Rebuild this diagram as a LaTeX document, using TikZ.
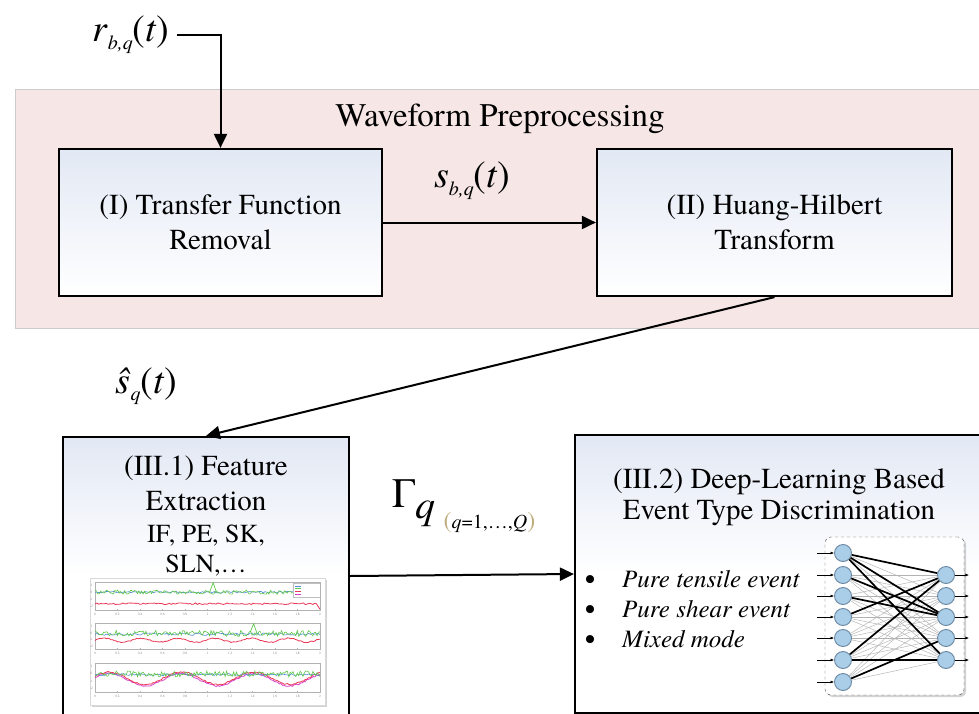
\documentclass[tikz,border=0pt]{standalone}
\usepackage{fontspec}
\setmainfont{texgyretermes}[Extension=.otf, UprightFont=*-regular, ItalicFont=*-italic, BoldFont=*-bold, BoldItalicFont=*-bolditalic]
\usepackage{xcolor}
\usetikzlibrary{arrows.meta, positioning, calc, shadows}
\definecolor{prepink}{RGB}{246, 230, 230}
\definecolor{boxblue}{RGB}{226, 232, 244}
\definecolor{neuronfill}{RGB}{170, 206, 232}
\definecolor{neuronedge}{RGB}{105, 135, 160}
\definecolor{plotgreen}{RGB}{95, 200, 70}
\definecolor{plotred}{RGB}{235, 55, 85}
\definecolor{plotblue}{RGB}{85, 140, 220}
\definecolor{plotmagenta}{RGB}{215, 60, 200}
\definecolor{bracketgray}{RGB}{190, 172, 125}

\tikzset{
  stagebox/.style={draw=black, line width=2.2pt, top color=boxblue, bottom color=white, inner sep=0pt},
  bigbox/.style={stagebox, middle color=white},
  flowarrow/.style={line width=2pt, -{Triangle[length=14pt, width=13pt]}},
  boxtext/.style={font=\fontsize{29}{35}\selectfont, align=center},
  smalltext/.style={font=\fontsize{26}{30}\selectfont},
  sigtext/.style={font=\fontsize{38}{40}\selectfont, inner sep=0pt},
  itemtext/.style={font=\fontsize{25}{30}\selectfont\itshape, inner sep=0pt},
  chartbg/.style={fill=white, draw=gray!30, line width=0.4pt, drop shadow={opacity=0.35, shadow xshift=2pt, shadow yshift=-2pt}},
  axisline/.style={draw=gray!60, line width=0.5pt},
  ticklab/.style={font=\fontsize{3.5}{4}\selectfont, text=gray, inner sep=0pt},
  neuron/.style={circle, draw=neuronedge, line width=0.9pt, fill=neuronfill, minimum size=17pt, inner sep=0pt},
  thinedge/.style={gray!60, line width=0.45pt},
  thickedge/.style={black, line width=1.7pt},
  tinyarrow/.style={line width=0.6pt, -{Latex[length=3.5pt, width=3pt]}},
}

% signal labels: letter, subscript, argument
\newcommand{\siglabel}[3]{\textit{#1}\raisebox{-0.45ex}{\fontsize{20}{20}\selectfont\textit{#2}}(\textit{#3})}

\begin{document}
\begin{tikzpicture}[x=1pt, y=-1pt]
    \useasboundingbox (0,0) rectangle (979,714);

    % Waveform preprocessing band
    \fill[prepink, draw=gray!40, line width=0.6pt] (15,89) rectangle (990,328);
    \node[font=\fontsize{33}{36}\selectfont, anchor=base] (prep) at (500,127) {Waveform Preprocessing};

    % Stage boxes
    \node[stagebox, minimum width=323pt, minimum height=147pt, boxtext] (tf) at (220.5,222.5) {(I) Transfer Function\\Removal};
    \node[stagebox, minimum width=355pt, minimum height=147pt, boxtext] (hh) at (774.5,222.5) {(II) Huang-Hilbert\\Transform};
    \node[bigbox, minimum width=286pt, minimum height=278pt] (fe) at (206,576) {};
    \node[bigbox, minimum width=415pt, minimum height=278pt] (dl) at (782.5,574) {};

    % Signal labels
    \node[sigtext, anchor=base west] (rlab) at (92,42) {\siglabel{r}{b,q}{t}};
    \node[sigtext, anchor=base west] (slab) at (434,188) {\siglabel{s}{b,q}{t}};
    \node[sigtext, anchor=base west] (shatlab) at (115,393) {\textit{\^{s}}\raisebox{-0.45ex}{\fontsize{20}{20}\selectfont\textit{q}}(\textit{t})};
    \node[inner sep=0pt, anchor=base west] (gamlab) at (392,507) {{\fontsize{42}{42}\selectfont Γ}\raisebox{-11pt}{\fontsize{40}{40}\selectfont\textit{q}}\hspace{8pt}\raisebox{-21pt}{\fontsize{20}{20}\selectfont\textcolor{bracketgray}{\fontsize{24}{24}\selectfont(}\textit{q}=1,…,\textit{Q}\textcolor{bracketgray}{\fontsize{24}{24}\selectfont)}}};

    % Connectors
    \draw[flowarrow] ([xshift=7pt]rlab.east) -| (tf.north);
    \draw[flowarrow] (tf.east) -- (hh.west);
    \draw[flowarrow] (hh.south) -- (fe.north);
    \draw[flowarrow] (fe.east) -- (dl.west);

    % Feature extraction text
    \node[boxtext, anchor=base] (fe1) at (206,475) {(III.1) Feature};
    \node[boxtext, anchor=base] (fe2) at (206,510) {Extraction};
    \node[smalltext, anchor=base] (fe3) at (206,542) {IF, PE, SK,};
    \node[smalltext, anchor=base] (fe4) at (206,572) {SLN,…};

    % Feature plots
    \node[chartbg, minimum width=235pt, minimum height=127pt] (chart) at (207.5,641.5) {};
    \foreach \top/\h in {582/28, 623/26, 663/29} {
        \draw[axisline] (95,\top) rectangle (320,\top+\h);
        \foreach \t/\lab in {0/0, 1/0.2, 2/0.4, 3/0.6, 4/0.8, 5/1, 6/1.2, 7/1.4, 8/1.6, 9/1.8, 10/2} {
            \draw[axisline] (95+22.5*\t,\top+\h) -- ++(0,-1.5);
            \node[ticklab] at (95+22.5*\t,\top+\h+4) {\lab};
        }
        \foreach \v/\lab in {0/1, 1/0, 2/-1, 3/-2}
            \node[ticklab] at (91.5,\top+3.5+\v*\h/4) {\lab};
    }
    \pgfmathsetseed{11}
    \begin{scope}[shift={(95,592.5)}, x=112.5pt, y=7pt]
        \clip (0,-2.5) rectangle (2,1.5);
        \draw[plotblue, line width=0.6pt] plot[domain=0:2, samples=120] (\x,{0.05+0.12*rand});
        \draw[plotgreen, line width=0.6pt] plot[domain=0:2, samples=160] (\x,{0.05+0.3*rand});
        \draw[plotgreen, line width=0.7pt] (1.02,0.1) -- (1.05,1.4) -- (1.08,0.0);
        \draw[plotred, line width=0.8pt] plot[domain=0:1.97, samples=120] (\x,{-1.6+0.12*rand}) -- (2,-2.4);
        \draw[fill=white, draw=gray!50, line width=0.3pt] (1.76,1.35) rectangle (2,-0.6);
        \foreach \c [count=\n] in {plotblue, plotgreen, plotred, plotmagenta}
            \draw[\c, line width=0.4pt] (1.78,1.35-0.4*\n) -- ++(0.05,0);
    \end{scope}
    \begin{scope}[shift={(95,632.75)}, x=112.5pt, y=6.5pt]
        \clip (0,-2.5) rectangle (2,1.5);
        \draw[plotblue, line width=0.6pt] plot[domain=0:2, samples=120] (\x,{-0.2+0.2*rand});
        \draw[plotgreen, line width=0.6pt] plot[domain=0:2, samples=160] (\x,{-0.1+0.45*rand});
        \draw[plotgreen, line width=0.7pt] (1.38,0.1) -- (1.41,1.4) -- (1.44,-0.1);
        \draw[plotred, line width=0.8pt] plot[domain=0:2, samples=140] (\x,{-1.15+0.3*sin(\x*1100)+0.08*rand});
    \end{scope}
    \begin{scope}[shift={(95,673.9)}, x=112.5pt, y=7.25pt]
        \clip (0,-2.5) rectangle (2,1.5);
        \draw[plotmagenta, line width=0.8pt] plot[domain=0:2, samples=140] (\x,{-0.8+0.85*sin(\x*560+20)+0.1*rand});
        \draw[plotred, line width=0.8pt] plot[domain=0:2, samples=140] (\x,{-0.6+0.85*sin(\x*560+20)+0.1*rand});
        \draw[plotblue, line width=0.6pt] plot[domain=0:2, samples=120] (\x,{-0.1+0.15*rand});
        \draw[plotgreen, line width=0.6pt] plot[domain=0:2, samples=160] (\x,{0+0.4*rand});
    \end{scope}

    % Discrimination text
    \node[boxtext, font=\fontsize{29}{31}\selectfont] (dltitle) at (779,497) {(III.2) Deep-Learning Based\\Event Type Discrimination};
    \foreach \txt [count=\n] in {Pure tensile event, Pure shear event, Mixed mode} {
        \node[inner sep=0pt, font=\fontsize{30}{30}\selectfont, anchor=base] (bul\n) at (590,559+30*\n) {•};
        \node[itemtext, anchor=base west] (item\n) at (622,557+30*\n) {\txt};
    }

    % Network sketch
    \node[chartbg, draw=black!70, dashed, rounded corners=6pt, minimum width=139pt, minimum height=158pt] (nnbox) at (894.5,616) {};
    \foreach \y [count=\i] in {553,575,596,617,638,660,682}
        \node[neuron] (in\i) at (843,\y) {};
    \foreach \y [count=\j] in {575,596,617,638,660}
        \node[neuron] (out\j) at (946,\y) {};
    \foreach \i in {1,...,7}
        \foreach \j in {1,...,5}
            \draw[thinedge] (in\i) -- (out\j);
    \foreach \i/\j in {1/1, 1/3, 1/5, 2/3, 3/3, 4/1, 6/1, 6/5, 7/4}
        \draw[thickedge] (in\i) -- (out\j);
    \foreach \i in {1,...,7}
        \draw[tinyarrow] ([xshift=-17pt]in\i.west) -- (in\i);
    \foreach \j in {1,...,5}
        \draw[tinyarrow] (out\j) -- ([xshift=14pt]out\j.east);

\end{tikzpicture}
\end{document}
